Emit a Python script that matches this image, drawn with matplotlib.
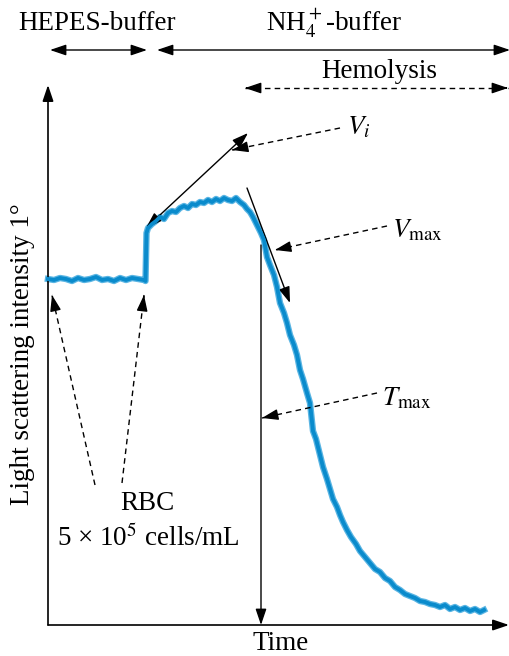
import numpy as np
import matplotlib
matplotlib.use("Agg")
import matplotlib.pyplot as plt

plt.rcParams['font.family'] = ['Liberation Serif', 'DejaVu Serif']
plt.rcParams['mathtext.fontset'] = 'stix'

# ---- data (time in arbitrary units, intensity in arbitrary units) ----
time = [0, 6, 12, 18, 24, 30, 36, 42, 48, 54, 60, 66, 72, 78, 84, 90, 96, 97.5,
        98.5, 100, 104, 108, 112, 116, 120, 124, 128, 132, 136, 140, 144, 148,
        152, 156, 160, 164, 168, 172, 176, 180, 184, 188, 192, 196, 199, 202,
        205, 209, 213, 216, 219, 222, 226, 229, 232, 236, 239, 242, 246, 249,
        252, 255, 259, 262, 265, 268, 272, 275, 279, 282, 285, 289, 292, 295,
        299, 303, 308, 312, 317, 322, 327, 332, 337, 342, 347, 352, 357, 362,
        367, 372, 377, 382, 387, 392, 397, 402, 407, 412, 417, 422, 427, 432, 436]
intensity = [346, 345, 347, 346, 344, 347, 345, 346, 348, 345, 346, 344, 347, 345, 347, 346, 345, 344,
             392, 397, 401, 404, 408, 406, 412, 414, 413, 417, 419, 417, 421, 420,
             423, 422, 425, 423, 426, 424, 427, 425, 424, 427, 423, 420, 416, 413,
             408, 400, 392, 385, 368, 360, 350, 338, 322, 312, 302, 290, 280, 270,
             255, 246, 232, 222, 194, 186, 170, 158, 146, 136, 126, 118, 110, 103,
             95, 88, 81, 74, 68, 62, 56, 53, 47, 44, 38, 35, 31, 29,
             27, 24, 23, 21, 20, 18, 20, 16, 18, 15, 17, 14, 16, 13, 15]

x_label = "Time"
y_label = "Light scattering intensity 1°"

fig = plt.figure(figsize=(5.10, 6.56), dpi=100)
ax = fig.add_axes([48 / 510, 31 / 656, 462 / 510, 540 / 656])
ax.set_xlim(0, 462)
ax.set_ylim(0, 540)
for s in ax.spines.values():
    s.set_visible(False)
ax.set_xticks([])
ax.set_yticks([])
ax.patch.set_alpha(0)

# curve
ax.plot(time, intensity, color='#5ab5e3', lw=4.6, solid_joinstyle='round', zorder=3, clip_on=False)
ax.plot(time, intensity, color='#0a8bcc', lw=2.8, solid_joinstyle='round', zorder=4, clip_on=False)

HEAD = '-|>,head_length=0.65,head_width=0.22'


def arrow(p0, p1, dashed=False, both=False, lw=1.0):
    p0 = np.array(p0, float)
    p1 = np.array(p1, float)
    if dashed:
        ax.plot([p0[0], p1[0]], [p0[1], p1[1]], color='black', lw=lw,
                linestyle=(0, (4, 3)), clip_on=False, zorder=5)
        d = (p1 - p0) / np.linalg.norm(p1 - p0)
        ax.annotate('', xy=p1, xytext=p1 - 2 * d, annotation_clip=False,
                    arrowprops=dict(arrowstyle=HEAD, color='black', lw=lw,
                                    mutation_scale=15, shrinkA=0, shrinkB=0))
        if both:
            ax.annotate('', xy=p0, xytext=p0 + 2 * d, annotation_clip=False,
                        arrowprops=dict(arrowstyle=HEAD, color='black', lw=lw,
                                        mutation_scale=15, shrinkA=0, shrinkB=0))
    else:
        style = ('<|-|>' if both else '-|>') + ',head_length=0.65,head_width=0.22'
        ax.annotate('', xy=p1, xytext=p0, annotation_clip=False,
                    arrowprops=dict(arrowstyle=style, color='black', lw=lw,
                                    mutation_scale=15, shrinkA=0, shrinkB=0))


# axes arrows
arrow((0, 0), (0, 540), lw=1.2)
arrow((0, 0), (461, 0), lw=1.2)

# top buffer arrows
arrow((2, 575), (99, 575), both=True)
arrow((109, 575), (462, 575), both=True)
arrow((197, 537), (460, 537), dashed=True, both=True)

fs = 19.5
ax.text(49, 601, 'HEPES-buffer', ha='center', va='center', fontsize=fs, clip_on=False)
ax.text(286, 601, r'NH$_4^+$-buffer', ha='center', va='center', fontsize=fs, clip_on=False)
ax.text(331, 553, 'Hemolysis', ha='center', va='center', fontsize=fs, clip_on=False)

# V_i
arrow((98, 397), (200, 492), both=True)
arrow((292, 497), (184, 475), dashed=True)
ax.text(299, 497, r'$V_i$', ha='left', va='center', fontsize=fs)

# V_max
arrow((199, 437), (242, 322))
arrow((339, 399), (227, 375), dashed=True)
ax.text(344, 394, r'$V_{\mathrm{max}}$', ha='left', va='center', fontsize=fs)

# T_max
arrow((213, 380), (213, 0))
arrow((329, 232), (214, 207), dashed=True)
ax.text(334, 226, r'$T_{\mathrm{max}}$', ha='left', va='center', fontsize=fs)

# RBC
arrow((47, 140), (4, 330), dashed=True)
arrow((74, 142), (96, 330), dashed=True)
ax.text(99, 121, 'RBC', ha='center', va='center', fontsize=fs)
ax.text(100, 87, r'5 × 10$^5$ cells/mL', ha='center', va='center', fontsize=fs)

# axis labels
ax.text(233, -18, x_label, ha='center', va='center', fontsize=fs, clip_on=False)
ax.text(-25, 271, y_label, ha='center', va='center', rotation=90, fontsize=fs, clip_on=False)

fig.savefig('out.png', dpi=100)
